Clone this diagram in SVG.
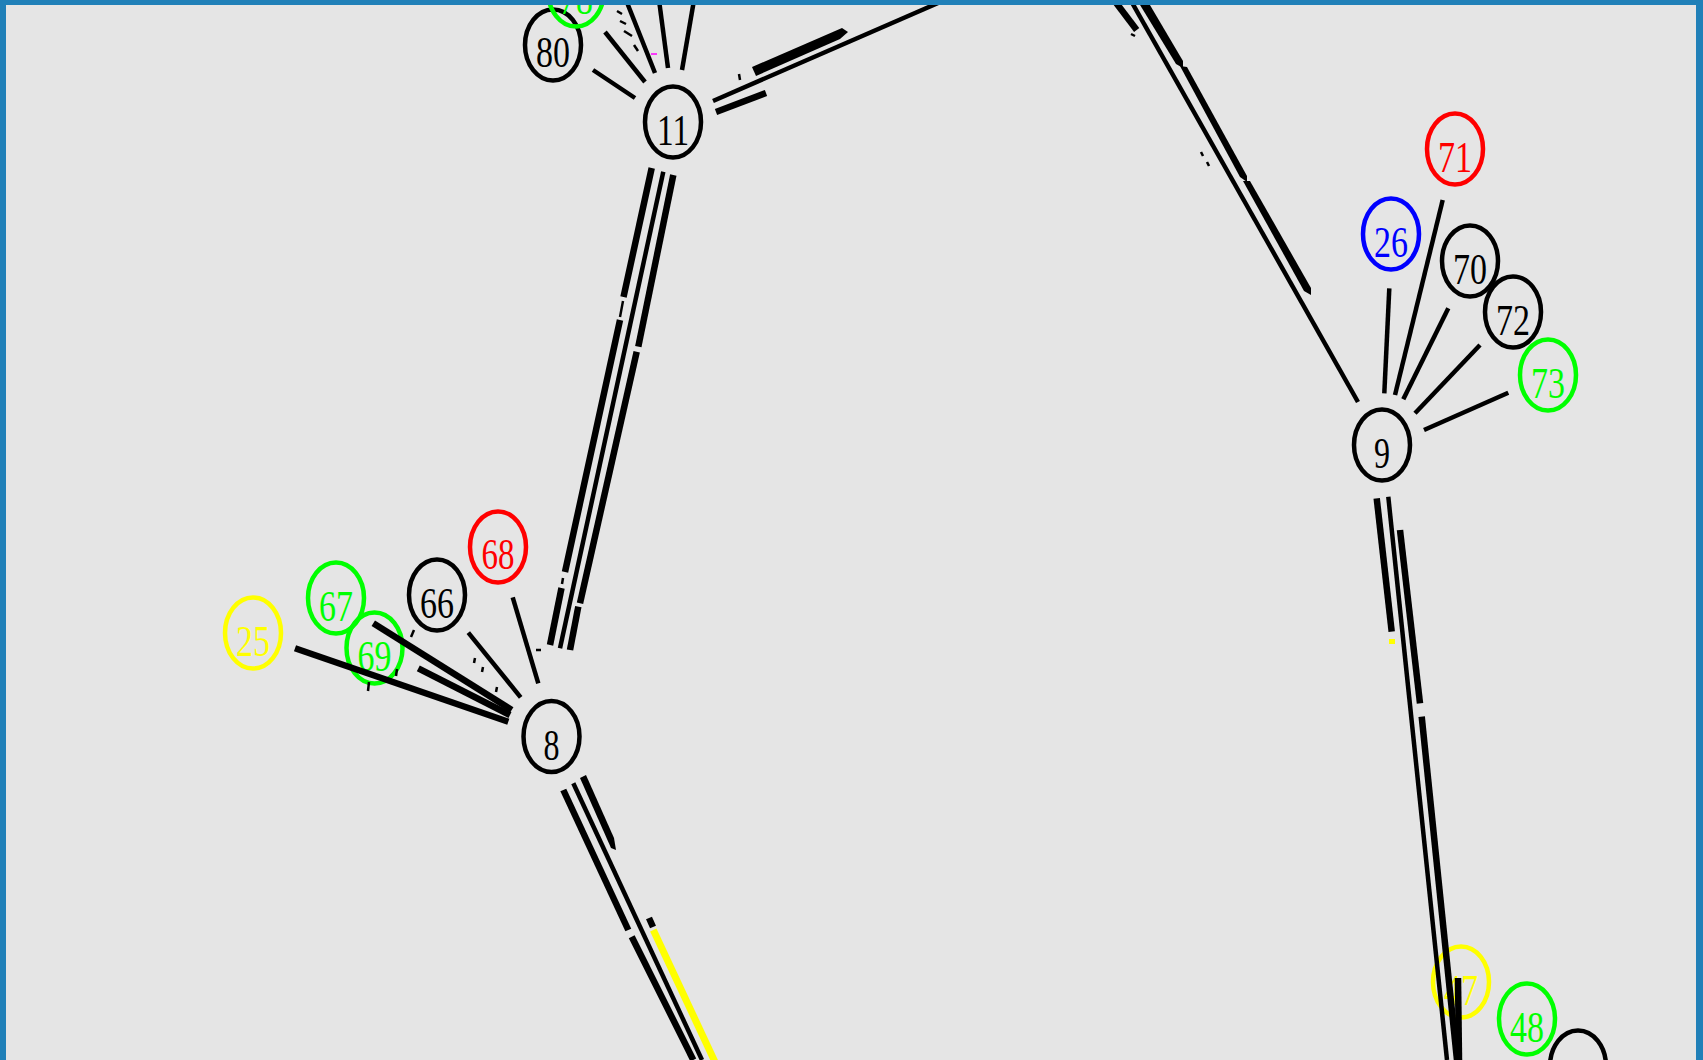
<svg xmlns="http://www.w3.org/2000/svg" width="1703" height="1060" viewBox="0 0 1703 1060">
<style>
.n ellipse{fill:none;stroke-width:4.5}
.n text{font-family:"Liberation Serif","Times New Roman",serif;font-size:44px;text-anchor:middle}
.k ellipse{stroke:#000}.k text{fill:#000}
.r ellipse{stroke:#f00}.r text{fill:#f00}
.g ellipse{stroke:#0f0}.g text{fill:#0f0}
.b ellipse{stroke:#00f}.b text{fill:#00f}
.y ellipse{stroke:#ff0}.y text{fill:#ff0}
#edges line{stroke:#000;stroke-linecap:butt}
.t1{stroke-width:4.5}
.t2{stroke-width:6.5}
.t3{stroke-width:2.5}
</style>
<rect x="0" y="0" width="1703" height="1060" fill="#e5e5e5"/>
<g id="nodes">
<g id="node-11" class="n k"><ellipse cx="673" cy="122" rx="28" ry="35.5"/><text x="673" y="145" textLength="32" lengthAdjust="spacingAndGlyphs">11</text></g>
<g id="node-80" class="n k"><ellipse cx="553" cy="45" rx="28" ry="35.5"/><text x="553" y="67" textLength="34" lengthAdjust="spacingAndGlyphs">80</text></g>
<g id="node-78" class="n g"><ellipse cx="576" cy="-9" rx="28" ry="35.5"/><text x="576" y="14" textLength="34" lengthAdjust="spacingAndGlyphs">78</text></g>
<g id="node-9" class="n k"><ellipse cx="1382" cy="445" rx="28" ry="35.5"/><text x="1382" y="468" textLength="16" lengthAdjust="spacingAndGlyphs">9</text></g>
<g id="node-26" class="n b"><ellipse cx="1391" cy="234" rx="28" ry="35.5"/><text x="1391" y="257" textLength="34" lengthAdjust="spacingAndGlyphs">26</text></g>
<g id="node-71" class="n r"><ellipse cx="1455" cy="149" rx="28" ry="35.5"/><text x="1455" y="172" textLength="34" lengthAdjust="spacingAndGlyphs">71</text></g>
<g id="node-70" class="n k"><ellipse cx="1470" cy="261" rx="28" ry="35.5"/><text x="1470" y="284" textLength="34" lengthAdjust="spacingAndGlyphs">70</text></g>
<g id="node-72" class="n k"><ellipse cx="1513" cy="312" rx="28" ry="35.5"/><text x="1513" y="335" textLength="34" lengthAdjust="spacingAndGlyphs">72</text></g>
<g id="node-73" class="n g"><ellipse cx="1548" cy="375" rx="28" ry="35.5"/><text x="1548" y="398" textLength="34" lengthAdjust="spacingAndGlyphs">73</text></g>
<g id="node-8" class="n k"><ellipse cx="551.5" cy="736.5" rx="28" ry="35.5"/><text x="551.5" y="759.5" textLength="16" lengthAdjust="spacingAndGlyphs">8</text></g>
<g id="node-68" class="n r"><ellipse cx="498" cy="547" rx="28" ry="35.5"/><text x="498" y="569" textLength="33" lengthAdjust="spacingAndGlyphs">68</text></g>
<g id="node-66" class="n k"><ellipse cx="437" cy="595" rx="28" ry="35.5"/><text x="437" y="618" textLength="34" lengthAdjust="spacingAndGlyphs">66</text></g>
<g id="node-67" class="n g"><ellipse cx="336" cy="598" rx="28" ry="35.5"/><text x="336" y="621" textLength="34" lengthAdjust="spacingAndGlyphs">67</text></g>
<g id="node-69" class="n g"><ellipse cx="374.5" cy="648" rx="28" ry="35.5"/><text x="374.5" y="671" textLength="34" lengthAdjust="spacingAndGlyphs">69</text></g>
<g id="node-25" class="n y"><ellipse cx="253" cy="633" rx="28" ry="35.5"/><text x="253" y="656" textLength="34" lengthAdjust="spacingAndGlyphs">25</text></g>
<g id="node-47" class="n y"><ellipse cx="1461" cy="982" rx="28" ry="35.5"/><text x="1461" y="1005" textLength="34" lengthAdjust="spacingAndGlyphs">47</text></g>
<g id="node-48" class="n g"><ellipse cx="1527" cy="1019" rx="28" ry="35.5"/><text x="1527" y="1042" textLength="34" lengthAdjust="spacingAndGlyphs">48</text></g>
<g id="node-49" class="n k"><ellipse cx="1578" cy="1066" rx="28" ry="35.5"/><text x="1578" y="1089" textLength="34" lengthAdjust="spacingAndGlyphs">49</text></g>
</g>
<g id="edges">
<!-- 11 fan -->
<line class="t1" x1="593" y1="70" x2="635" y2="98"/>
<line class="t1" x1="605" y1="32" x2="645" y2="82"/>
<line class="t1" x1="626" y1="0" x2="655" y2="73"/>
<line class="t1" x1="659" y1="0" x2="668" y2="68"/>
<line class="t1" x1="694" y1="0" x2="682" y2="70"/>
<line class="t3" x1="617" y1="11" x2="622" y2="14"/>
<line class="t3" x1="620" y1="21" x2="626" y2="24"/>
<line class="t3" x1="624" y1="31" x2="632" y2="36"/>
<line class="t3" x1="634" y1="45" x2="638" y2="51"/>
<line x1="651" y1="54" x2="657" y2="54" stroke-width="1.5" style="stroke:#f0f"/>
<!-- 11 to top right -->
<line class="t1" x1="713" y1="101" x2="945" y2="0"/>
<polygon points="752,67 842,28 848,32 840,39 756,76" fill="#000"/>
<line class="t2" x1="716" y1="112" x2="766" y2="93"/>
<line class="t3" x1="739" y1="74" x2="740" y2="80"/>
<!-- 11 to 8 bundle -->
<line class="t2" x1="651.7" y1="168" x2="623.5" y2="297"/>
<line class="t3" x1="623" y1="301" x2="620" y2="317"/>
<line class="t2" x1="620" y1="320" x2="565" y2="572"/>
<line class="t3" x1="563" y1="578" x2="562" y2="584"/>
<line class="t2" x1="561.5" y1="588" x2="550" y2="645"/>
<line class="t1" x1="663.3" y1="171.7" x2="560" y2="648.3"/>
<line class="t2" x1="673.3" y1="175" x2="638.3" y2="346.7"/>
<line class="t2" x1="636.7" y1="351.7" x2="580" y2="603.3"/>
<line class="t2" x1="578.3" y1="606.7" x2="570" y2="650"/>
<!-- 8 fan -->
<line class="t1" x1="512.7" y1="597.3" x2="538.3" y2="683.3"/>
<line class="t3" x1="536" y1="650" x2="541" y2="650"/>
<line class="t1" x1="468.3" y1="632.7" x2="520.7" y2="697.3"/>
<line class="t3" x1="475" y1="658" x2="474" y2="663"/>
<line class="t3" x1="483" y1="667" x2="482" y2="672"/>
<line class="t3" x1="497" y1="687" x2="496" y2="692"/>
<line class="t2" x1="373.3" y1="623.3" x2="511.7" y2="710"/>
<line class="t2" x1="418.3" y1="668.3" x2="510" y2="715"/>
<line class="t2" x1="295" y1="648.3" x2="508.3" y2="721.7"/>
<line class="t3" x1="414" y1="630" x2="411" y2="637"/>
<line class="t3" x1="369" y1="682" x2="368" y2="691"/>
<line class="t3" x1="397" y1="669" x2="396" y2="676"/>
<!-- 8 downward -->
<line class="t2" x1="563.3" y1="790" x2="628.3" y2="930"/>
<line class="t2" x1="631.7" y1="936.7" x2="693.3" y2="1060"/>
<line class="t1" x1="573.3" y1="783.3" x2="702" y2="1060"/>
<polygon points="580,778 586,775 614,838 616,850 611,848" fill="#000"/>
<line class="t2" x1="649" y1="918" x2="653" y2="927"/>
<line x1="653.3" y1="930" x2="715" y2="1062" stroke-width="7" style="stroke:#ff0"/>
<!-- top to 9 -->
<line class="t1" x1="1130.5" y1="0" x2="1358" y2="402"/>
<line class="t2" x1="1114" y1="0" x2="1136.7" y2="30"/>
<line class="t3" x1="1131" y1="34" x2="1135" y2="36"/>
<polygon points="1137,0 1147,0 1183,61 1183,68 1176,64" fill="#000"/>
<polygon points="1180,66 1187,67 1247,176 1247,182 1240,177" fill="#000"/>
<polygon points="1243,181 1250,181 1311,288 1311,295 1304,291" fill="#000"/>
<line class="t3" x1="1201" y1="152" x2="1203" y2="156"/>
<line class="t3" x1="1207" y1="162" x2="1209" y2="166"/>
<!-- 9 fan -->
<line class="t1" x1="1389.3" y1="288.3" x2="1384.3" y2="393.3"/>
<line class="t1" x1="1442.7" y1="200" x2="1395" y2="395"/>
<line class="t1" x1="1448.3" y1="308.3" x2="1403.3" y2="399.3"/>
<line class="t1" x1="1480" y1="345" x2="1415" y2="413.3"/>
<line class="t1" x1="1508.3" y1="392.7" x2="1424" y2="430"/>
<!-- 9 downward -->
<line class="t2" x1="1376.7" y1="498.3" x2="1391.7" y2="631.7"/>
<rect x="1389" y="639" width="6" height="5" fill="#ff0"/>
<line class="t1" x1="1388.3" y1="496.7" x2="1447" y2="1060"/>
<line class="t2" x1="1400" y1="530" x2="1420" y2="703.3"/>
<line class="t2" x1="1421.7" y1="716.7" x2="1457" y2="1060"/>
<line class="t2" x1="1458" y1="978" x2="1459" y2="1060"/>
</g>
<g id="frame" fill="#2080b8">
<rect x="0" y="0" width="1703" height="5"/>
<rect x="0" y="0" width="6" height="1060"/>
<rect x="1696" y="0" width="7" height="1060"/>
</g>
</svg>
